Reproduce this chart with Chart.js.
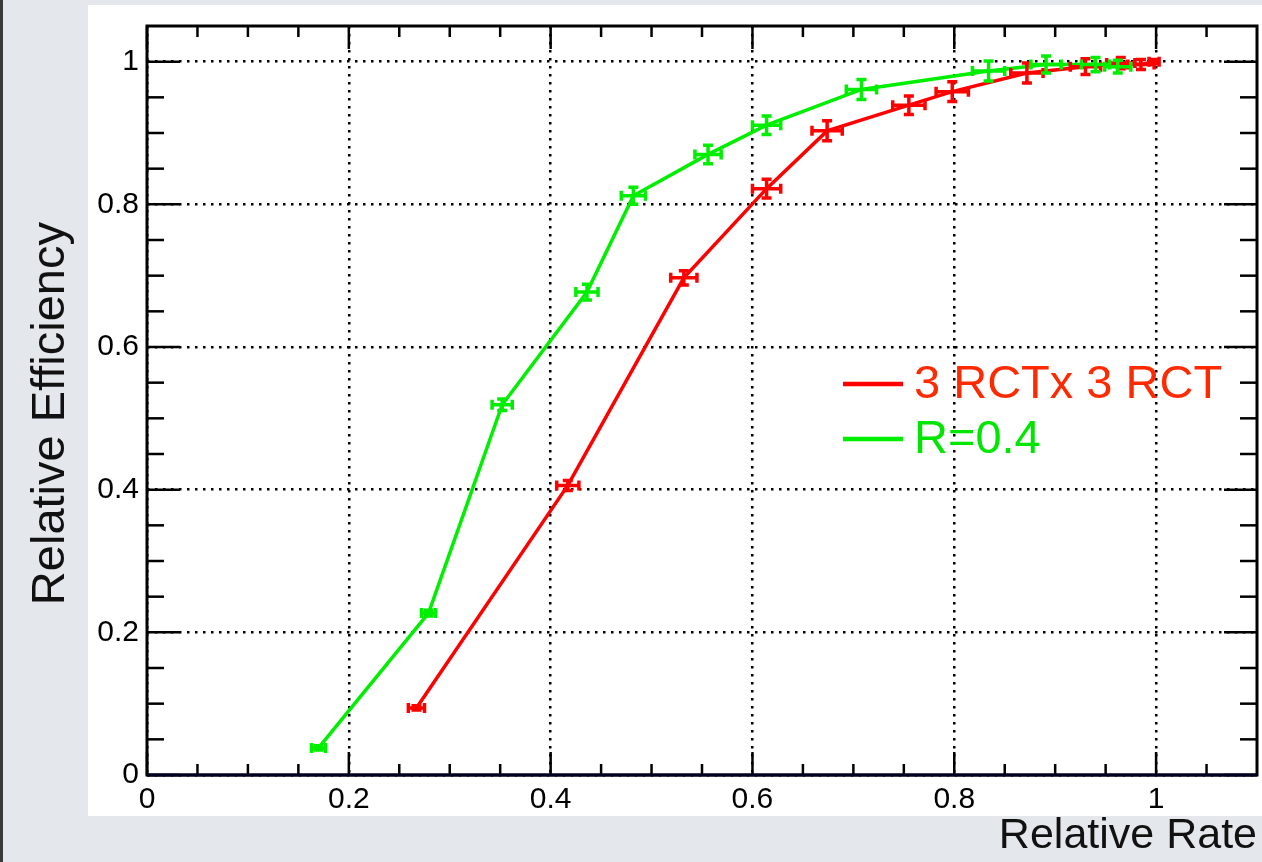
<!DOCTYPE html>
<html>
<head>
<meta charset="utf-8">
<script src="https://cdn.jsdelivr.net/npm/chart.js@4.4.1/dist/chart.umd.min.js"></script>
<style>
    html, body { margin: 0; padding: 0; background: #e4e7eb; overflow: hidden; }
    #wrap { position: absolute; left: 0; top: 0; width: 1262px; height: 862px; }
</style>
</head>
<body>
<div id="wrap"><canvas id="effChart"></canvas></div>
<script>
// 3 RCT x 3 RCT
var rctRate = [0.267, 0.417, 0.532, 0.614, 0.674, 0.755, 0.798, 0.872, 0.930, 0.965, 0.985, 0.998];
var rctEff = [0.094, 0.406, 0.697, 0.822, 0.903, 0.939, 0.958, 0.984, 0.993, 0.998, 0.996, 1.000];
var rctRateErr = [0.008, 0.011, 0.013, 0.014, 0.015, 0.016, 0.016, 0.016, 0.015, 0.014, 0.013, 0.005];
var rctEffErr = [0.003, 0.007, 0.010, 0.013, 0.014, 0.013, 0.014, 0.014, 0.011, 0.008, 0.007, 0.003];

// R=0.4
var coneRate = [0.170, 0.279, 0.352, 0.436, 0.482, 0.556, 0.614, 0.708, 0.834, 0.891, 0.940, 0.962];
var coneEff = [0.038, 0.227, 0.519, 0.677, 0.812, 0.870, 0.911, 0.961, 0.987, 0.996, 0.996, 0.993];
var coneRateErr = [0.007, 0.007, 0.010, 0.011, 0.012, 0.013, 0.014, 0.015, 0.016, 0.015, 0.014, 0.013];
var coneEffErr = [0.003, 0.004, 0.008, 0.011, 0.012, 0.013, 0.013, 0.014, 0.014, 0.012, 0.010, 0.009];

var seriesLabels = ['3 RCTx 3 RCT', 'R=0.4'];

var xMajorTicks = [0, 0.2, 0.4, 0.6, 0.8, 1.0];
var xMinorTicks = [0.05, 0.1, 0.15, 0.25, 0.3, 0.35, 0.45, 0.5, 0.55, 0.65, 0.7, 0.75, 0.85, 0.9, 0.95, 1.05];
var yMajorTicks = [0, 0.2, 0.4, 0.6, 0.8, 1.0];
var yMinorTicks = [0.05, 0.1, 0.15, 0.25, 0.3, 0.35, 0.45, 0.5, 0.55, 0.65, 0.7, 0.75, 0.85, 0.9, 0.95];

var fontFamily = '"Liberation Sans", Arial, Helvetica, sans-serif';

function toPoints(xs, ys) {
    return xs.map(function (x, i) { return { x: x, y: ys[i] }; });
}

function tickText(value) {
    return String(Number(value.toFixed(2)));
}

var slideBackground = {
    id: 'slideBackground',
    beforeDraw: function (chart) {
        var ctx = chart.ctx;
        ctx.save();
        ctx.fillStyle = '#e4e7eb';
        ctx.fillRect(0, 0, chart.width, chart.height);
        ctx.fillStyle = '#3a3a3a';
        ctx.fillRect(0, 0, 3, chart.height);
        ctx.fillStyle = '#ffffff';
        ctx.fillRect(88, 5, chart.width - 88, 811);
        ctx.restore();
    }
};

// frame with inward ticks on all four sides, like a ROOT canvas
var rootFrame = {
    id: 'rootFrame',
    beforeDatasetsDraw: function (chart) {
        var ctx = chart.ctx;
        var a = chart.chartArea;
        var sx = chart.scales.x;
        var sy = chart.scales.y;

        var seg = function (x1, y1, x2, y2) {
            ctx.beginPath();
            ctx.moveTo(x1, y1);
            ctx.lineTo(x2, y2);
            ctx.stroke();
        };
        var tickX = function (v, len) {
            var p = sx.getPixelForValue(v);
            seg(p, a.bottom, p, a.bottom - len);
            seg(p, a.top, p, a.top + len);
        };
        var tickY = function (v, len) {
            var p = sy.getPixelForValue(v);
            seg(a.left, p, a.left + len, p);
            seg(a.right, p, a.right - len, p);
        };

        ctx.save();
        ctx.strokeStyle = '#000000';
        ctx.lineWidth = 2.5;
        xMajorTicks.forEach(function (v) { tickX(v, 23); });
        xMinorTicks.forEach(function (v) { tickX(v, 11); });
        yMajorTicks.forEach(function (v) { tickY(v, 33); });
        yMinorTicks.forEach(function (v) { tickY(v, 17); });

        ctx.lineWidth = 3;
        ctx.strokeRect(a.left, a.top, a.right - a.left, a.bottom - a.top);
        ctx.strokeStyle = '#000020';
        seg(a.left, a.bottom, a.right, a.bottom);
        ctx.restore();
    }
};

var errorBars = {
    id: 'errorBars',
    afterDatasetsDraw: function (chart) {
        var ctx = chart.ctx;
        var sx = chart.scales.x;
        var sy = chart.scales.y;
        var cap = 5;
        ctx.save();
        chart.data.datasets.forEach(function (ds) {
            ctx.strokeStyle = ds.borderColor;
            ctx.lineWidth = 3.5;
            ds.data.forEach(function (pt, i) {
                var px = sx.getPixelForValue(pt.x);
                var py = sy.getPixelForValue(pt.y);
                var x1 = sx.getPixelForValue(pt.x - ds.errX[i]);
                var x2 = sx.getPixelForValue(pt.x + ds.errX[i]);
                var y1 = sy.getPixelForValue(pt.y - ds.errY[i]);
                var y2 = sy.getPixelForValue(pt.y + ds.errY[i]);
                ctx.beginPath();
                ctx.moveTo(x1, py); ctx.lineTo(x2, py);
                ctx.moveTo(px, y1); ctx.lineTo(px, y2);
                ctx.moveTo(x1, py - cap); ctx.lineTo(x1, py + cap);
                ctx.moveTo(x2, py - cap); ctx.lineTo(x2, py + cap);
                ctx.moveTo(px - cap, y1); ctx.lineTo(px + cap, y1);
                ctx.moveTo(px - cap, y2); ctx.lineTo(px + cap, y2);
                ctx.stroke();
            });
        });
        ctx.restore();
    }
};

// legend box inside the frame
var frameLegend = {
    id: 'frameLegend',
    afterDraw: function (chart) {
        var ctx = chart.ctx;
        var left = 843;
        var rows = [384, 439];
        ctx.save();
        ctx.font = '47px ' + fontFamily;
        ctx.textBaseline = 'middle';
        chart.data.datasets.forEach(function (ds, i) {
            var y = rows[i];
            ctx.strokeStyle = ds.borderColor;
            ctx.lineWidth = 4.5;
            ctx.beginPath();
            ctx.moveTo(left, y);
            ctx.lineTo(left + 60, y);
            ctx.stroke();
            ctx.fillStyle = ds.textColor;
            ctx.fillText(ds.label, left + 71, y + 1);
        });
        ctx.restore();
    }
};

new Chart(document.getElementById('effChart'), {
    type: 'scatter',
    data: {
        datasets: [
            {
                label: seriesLabels[0],
                data: toPoints(rctRate, rctEff),
                errX: rctRateErr,
                errY: rctEffErr,
                borderColor: '#ff0000',
                textColor: '#ff2a00',
                borderWidth: 3.5,
                showLine: true,
                pointRadius: 0,
                tension: 0
            },
            {
                label: seriesLabels[1],
                data: toPoints(coneRate, coneEff),
                errX: coneRateErr,
                errY: coneEffErr,
                borderColor: '#00ee00',
                textColor: '#00e600',
                borderWidth: 3.5,
                showLine: true,
                pointRadius: 0,
                tension: 0
            }
        ]
    },
    options: {
        responsive: true,
        maintainAspectRatio: false,
        animation: false,
        layout: { padding: { left: 0, top: 22, right: 5, bottom: 0 } },
        plugins: {
            legend: { display: false },
            tooltip: { enabled: false }
        },
        scales: {
            x: {
                type: 'linear',
                min: 0,
                max: 1.1,
                afterFit: function (scale) { scale.height = 87; },
                ticks: {
                    stepSize: 0.2,
                    includeBounds: false,
                    padding: 7,
                    color: '#000000',
                    font: { family: fontFamily, size: 30 },
                    callback: tickText
                },
                grid: {
                    drawTicks: false,
                    color: '#000000',
                    lineWidth: 2.5
                },
                border: { display: false, dash: [2.5, 5.5] },
                title: {
                    display: true,
                    text: 'Relative Rate',
                    align: 'end',
                    color: '#111111',
                    padding: { top: 0, bottom: 0 },
                    font: { family: fontFamily, size: 43, lineHeight: 1.2 }
                }
            },
            y: {
                type: 'linear',
                min: 0,
                max: 1.05,
                afterFit: function (scale) { scale.width = 147; },
                ticks: {
                    stepSize: 0.2,
                    includeBounds: false,
                    padding: 8,
                    color: '#000000',
                    font: { family: fontFamily, size: 30 },
                    callback: tickText
                },
                grid: {
                    drawTicks: false,
                    color: '#000000',
                    lineWidth: 2.5
                },
                border: { display: false, dash: [2.5, 5.5] },
                title: {
                    display: true,
                    text: 'Relative Efficiency  ',
                    align: 'center',
                    color: '#111111',
                    padding: { top: 23, bottom: 0 },
                    font: { family: fontFamily, size: 47, lineHeight: 1.2 }
                }
            }
        }
    },
    plugins: [slideBackground, rootFrame, errorBars, frameLegend]
});
</script>
</body>
</html>
